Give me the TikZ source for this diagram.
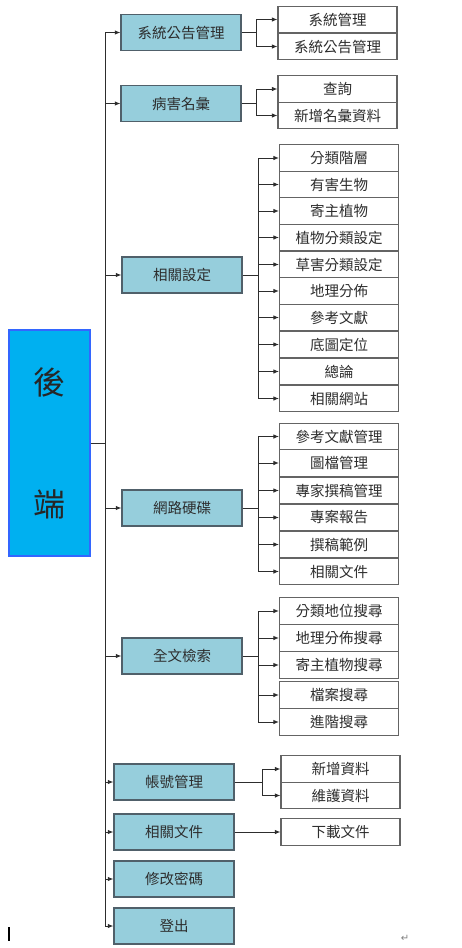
\documentclass[tikz,border=0pt]{standalone}
\usepackage{fontspec}
\setmainfont{Noto Sans CJK TC}
\newfontfamily\symfont{DejaVu Sans}
\usepackage{tikz}
\usetikzlibrary{positioning,arrows.meta,calc}
\definecolor{rootblue}{RGB}{0,176,240}
\definecolor{rootedge}{RGB}{51,102,255}
\definecolor{topicfill}{RGB}{150,206,220}
\definecolor{topicedge}{RGB}{80,96,106}
\definecolor{leafedge}{RGB}{100,100,100}
\definecolor{inkgray}{RGB}{45,45,45}
\tikzset{%
  root/.style={draw=rootedge, line width=1.2pt, fill=rootblue, minimum width=81pt,
    minimum height=226pt, align=center, font=\fontsize{32}{38}\selectfont, text=black!85},% back end
  topic/.style={draw=topicedge, line width=1.2pt, fill=topicfill, minimum width=120pt,
    minimum height=36pt, font=\fontsize{14.5}{16}\selectfont, text=inkgray},% first level
  leaf/.style={draw=leafedge, line width=1.1pt, fill=white, minimum width=119pt,
    minimum height=26.7pt, inner sep=0pt, font=\fontsize{14.5}{16}\selectfont, text=inkgray},% second level
  link/.style={draw=inkgray, line width=1pt},% plain line
  arr/.style={link, -{Latex[length=5.5pt,width=4.5pt]}}% line with arrow
}

\begin{document}
\begin{tikzpicture}[x=1pt, y=-1pt]
\useasboundingbox (0,0) rectangle (462,948);

\node[root] (root) at (49.5, 443) {後\\[84pt]端};

\node[topic] (t1) at (181, 32.5) {系統公告管理};
\node[topic] (t2) at (181, 103.5) {病害名彙};
\node[topic] (t3) at (182, 275) {相關設定};
\node[topic] (t4) at (182, 508) {網路硬碟};
\node[topic] (t5) at (182, 656) {全文檢索};
\node[topic] (t6) at (174, 782) {帳號管理};
\node[topic] (t7) at (174, 832) {相關文件};
\node[topic] (t8) at (174, 879) {修改密碼};
\node[topic] (t9) at (174, 926) {登出};

\node[leaf] (l11) at (337.5, 19.5) {系統管理};
\node[leaf] (l12) at (337.5, 46.5) {系統公告管理};

\node[leaf] (l21) at (337.5, 89) {查詢};
\node[leaf] (l22) at (337.5, 115.5) {新增名彙資料};

\node[leaf] (l31) at (339, 158) {分類階層};
\node[leaf] (l32) at (339, 184.5) {有害生物};
\node[leaf] (l33) at (339, 211) {寄主植物};
\node[leaf] (l34) at (339, 237.5) {植物分類設定};
\node[leaf] (l35) at (339, 264.5) {草害分類設定};
\node[leaf] (l36) at (339, 291) {地理分佈};
\node[leaf] (l37) at (339, 317.5) {參考文獻};
\node[leaf] (l38) at (339, 344.5) {底圖定位};
\node[leaf] (l39) at (339, 371.5) {總論};
\node[leaf] (l310) at (339, 398.5) {相關網站};

\node[leaf] (l41) at (339, 436.5) {參考文獻管理};
\node[leaf] (l42) at (339, 463) {圖檔管理};
\node[leaf] (l43) at (339, 490.5) {專家撰稿管理};
\node[leaf] (l44) at (339, 517.5) {專案報告};
\node[leaf] (l45) at (339, 544.5) {撰稿範例};
\node[leaf] (l46) at (339, 571.5) {相關文件};

\node[leaf] (l51) at (339, 611) {分類地位搜尋};
\node[leaf] (l52) at (339, 638) {地理分佈搜尋};
\node[leaf] (l53) at (339, 665) {寄主植物搜尋};
\node[leaf] (l54) at (339, 695) {檔案搜尋};
\node[leaf] (l55) at (339, 722) {進階搜尋};

\node[leaf] (l61) at (340.5, 769) {新增資料};
\node[leaf] (l62) at (340.5, 795.5) {維護資料};

\node[leaf] (l71) at (340.5, 832) {下載文件};

% trunk from the back end
\coordinate (trunk) at (105, 0);
\draw[link] (root.east) -- (root.east -| trunk);
\draw[link] (trunk |- t1.west) -- (trunk |- t9.west);
\draw[arr] (trunk |- t1.west) -- (t1.west);
\draw[arr] (trunk |- t2.west) -- (t2.west);
\draw[arr] (trunk |- t3.west) -- (t3.west);
\draw[arr] (trunk |- t4.west) -- (t4.west);
\draw[arr] (trunk |- t5.west) -- (t5.west);
\draw[arr] (trunk |- t6.west) -- (t6.west);
\draw[arr] (trunk |- t7.west) -- (t7.west);
\draw[arr] (trunk |- t8.west) -- (t8.west);
\draw[arr] (trunk |- t9.west) -- (t9.west);

% brackets to the second level
\coordinate (b1) at (256, 0);
\coordinate (b3) at (258, 0);
\coordinate (b6) at (262, 0);

\draw[link] (t1.east) -- (t1.east -| b1);
\draw[link] (b1 |- l11.west) -- (b1 |- l12.west);
\draw[arr] (b1 |- l11.west) -- (l11.west);
\draw[arr] (b1 |- l12.west) -- (l12.west);

\draw[link] (t2.east) -- (t2.east -| b1);
\draw[link] (b1 |- l21.west) -- (b1 |- l22.west);
\draw[arr] (b1 |- l21.west) -- (l21.west);
\draw[arr] (b1 |- l22.west) -- (l22.west);

\draw[link] (t3.east) -- (t3.east -| b3);
\draw[link] (b3 |- l31.west) -- (b3 |- l310.west);
\draw[arr] (b3 |- l31.west) -- (l31.west);
\draw[arr] (b3 |- l32.west) -- (l32.west);
\draw[arr] (b3 |- l33.west) -- (l33.west);
\draw[arr] (b3 |- l34.west) -- (l34.west);
\draw[arr] (b3 |- l35.west) -- (l35.west);
\draw[arr] (b3 |- l36.west) -- (l36.west);
\draw[arr] (b3 |- l37.west) -- (l37.west);
\draw[arr] (b3 |- l38.west) -- (l38.west);
\draw[arr] (b3 |- l39.west) -- (l39.west);
\draw[arr] (b3 |- l310.west) -- (l310.west);

\draw[link] (t4.east) -- (t4.east -| b3);
\draw[link] (b3 |- l41.west) -- (b3 |- l46.west);
\draw[arr] (b3 |- l41.west) -- (l41.west);
\draw[arr] (b3 |- l42.west) -- (l42.west);
\draw[arr] (b3 |- l43.west) -- (l43.west);
\draw[arr] (b3 |- l44.west) -- (l44.west);
\draw[arr] (b3 |- l45.west) -- (l45.west);
\draw[arr] (b3 |- l46.west) -- (l46.west);

\draw[link] (t5.east) -- (t5.east -| b3);
\draw[link] (b3 |- l51.west) -- (b3 |- l55.west);
\draw[arr] (b3 |- l51.west) -- (l51.west);
\draw[arr] (b3 |- l52.west) -- (l52.west);
\draw[arr] (b3 |- l53.west) -- (l53.west);
\draw[arr] (b3 |- l54.west) -- (l54.west);
\draw[arr] (b3 |- l55.west) -- (l55.west);

\draw[link] (t6.east) -- (t6.east -| b6);
\draw[link] (b6 |- l61.west) -- (b6 |- l62.west);
\draw[arr] (b6 |- l61.west) -- (l61.west);
\draw[arr] (b6 |- l62.west) -- (l62.west);

\draw[arr] (t7.east) -- (l71.west);

% editor marks
\node[fill=black, minimum width=2pt, minimum height=14pt, inner sep=0pt] (cursor) at (8.5, 934) {};
\node[text=gray, font=\symfont\fontsize{10}{11}\selectfont] (para) at (405, 938) {↵};
\end{tikzpicture}
\end{document}
